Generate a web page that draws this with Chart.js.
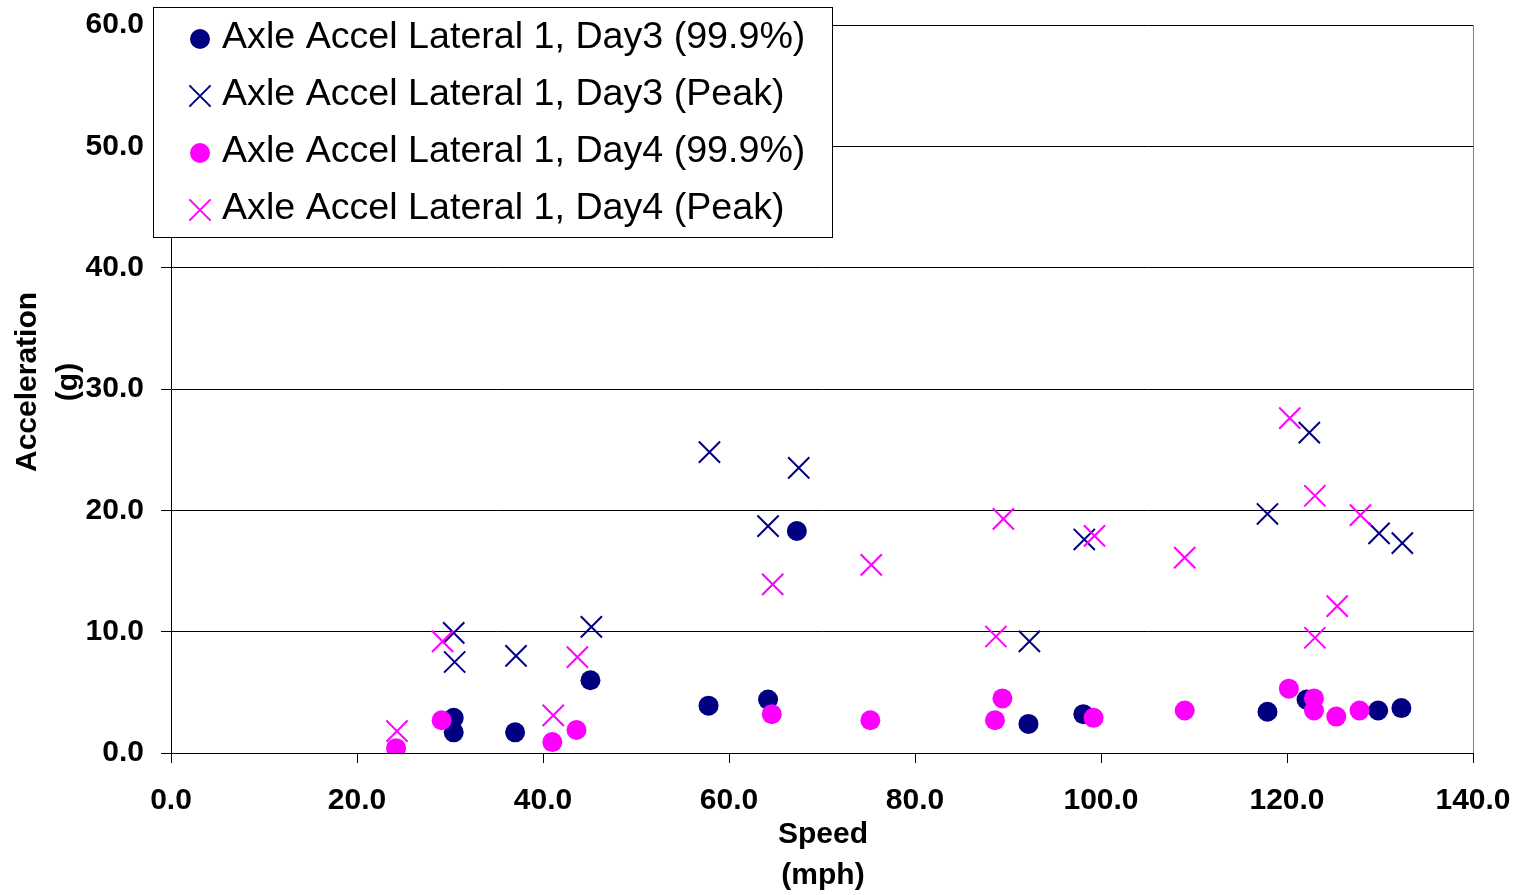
<!DOCTYPE html>
<html>
<head>
<meta charset="utf-8">
<style>
  html, body { margin: 0; padding: 0; background: #ffffff; }
  #wrap { width: 1522px; height: 895px; position: relative; }
  canvas { display: block; }
</style>
<script src="https://cdn.jsdelivr.net/npm/chart.js@4/dist/chart.umd.min.js"></script>
</head>
<body>
<div id="wrap"><canvas id="c" width="1522" height="895"></canvas></div>
<script>
// ---- data ----
const seriesLabels = [
  'Axle Accel Lateral 1, Day3 (99.9%)',
  'Axle Accel Lateral 1, Day3 (Peak)',
  'Axle Accel Lateral 1, Day4 (99.9%)',
  'Axle Accel Lateral 1, Day4 (Peak)'
];
const day3PctSpeed = [30.4, 30.4, 37.0, 45.1, 57.8, 64.2, 67.3, 92.2, 98.1, 117.9, 122.1, 129.8, 132.3];
const day3PctAccel = [2.9, 1.7, 1.7, 6.0, 3.9, 4.4, 18.3, 2.4, 3.2, 3.4, 4.4, 3.5, 3.7];
const day3PeakSpeed = [30.4, 30.5, 37.1, 45.2, 57.9, 64.2, 67.5, 92.3, 98.2, 117.9, 122.4, 129.9, 132.4];
const day3PeakAccel = [9.9, 7.5, 8.0, 10.4, 24.8, 18.7, 23.5, 9.2, 17.6, 19.7, 26.4, 18.1, 17.3];
const day4PctSpeed = [24.2, 29.1, 41.0, 43.6, 64.6, 75.2, 88.6, 89.4, 99.2, 109.0, 120.2, 122.9, 122.9, 125.3, 127.8];
const day4PctAccel = [0.4, 2.7, 0.9, 1.9, 3.2, 2.7, 2.7, 4.5, 2.9, 3.5, 5.3, 4.5, 3.5, 3.0, 3.5];
const day4PeakSpeed = [24.3, 29.2, 41.1, 43.7, 64.7, 75.3, 88.7, 89.5, 99.3, 109.0, 120.3, 123.0, 123.0, 125.4, 127.9];
const day4PeakAccel = [1.8, 9.2, 3.1, 7.9, 13.9, 15.5, 9.6, 19.3, 17.9, 16.1, 27.6, 21.2, 9.5, 12.1, 19.6];
const xTitleLines = ['Speed', '(mph)'];
const yTitleLines = ['Acceleration', '(g)'];
const xMin = 0, xMax = 140, xStep = 20;
const yMin = 0, yMax = 60, yStep = 10;

const NAVY = '#000080';
const MAGENTA = '#FF00FF';
const FONT = '"Liberation Sans", Arial, Helvetica, sans-serif';

function pts(xs, ys) { return xs.map((x, i) => ({ x: x, y: ys[i] })); }

const styles = [
  { color: NAVY, pointStyle: 'circle', radius: 10, bw: 0, order: 4 },
  { color: NAVY, pointStyle: 'crossRot', radius: 15, bw: 2, order: 3 },
  { color: MAGENTA, pointStyle: 'circle', radius: 10, bw: 0, order: 2 },
  { color: MAGENTA, pointStyle: 'crossRot', radius: 15, bw: 2, order: 1 }
];
const dataSets = [
  pts(day3PctSpeed, day3PctAccel),
  pts(day3PeakSpeed, day3PeakAccel),
  pts(day4PctSpeed, day4PctAccel),
  pts(day4PeakSpeed, day4PeakAccel)
];

const datasets = dataSets.map((d, i) => ({
  label: seriesLabels[i],
  data: d,
  showLine: false,
  order: styles[i].order,
  pointStyle: styles[i].pointStyle,
  pointRadius: styles[i].radius,
  pointHoverRadius: styles[i].radius,
  pointBackgroundColor: styles[i].color,
  pointBorderColor: styles[i].color,
  pointBorderWidth: styles[i].bw,
  backgroundColor: styles[i].color,
  borderColor: styles[i].color
}));

function drawMarker(ctx, st, x, y) {
  ctx.save();
  ctx.fillStyle = st.color;
  ctx.strokeStyle = st.color;
  ctx.lineWidth = st.bw || 2;
  if (st.pointStyle === 'circle') {
    ctx.beginPath();
    ctx.arc(x, y, st.radius, 0, Math.PI * 2);
    ctx.fill();
  } else {
    const o = Math.cos(Math.PI / 4) * st.radius;
    ctx.beginPath();
    ctx.moveTo(x - o, y - o); ctx.lineTo(x + o, y + o);
    ctx.moveTo(x + o, y - o); ctx.lineTo(x - o, y + o);
    ctx.stroke();
  }
  ctx.restore();
}

const decorPlugin = {
  id: 'decor',
  beforeDatasetsDraw(chart) {
    const { ctx, chartArea } = chart;
    ctx.save();
    ctx.strokeStyle = '#808080';
    ctx.lineWidth = 1;
    ctx.beginPath();
    ctx.moveTo(Math.round(chartArea.right) + 0.5, chartArea.top);
    ctx.lineTo(Math.round(chartArea.right) + 0.5, chartArea.bottom);
    ctx.stroke();
    ctx.restore();
  },
  afterDraw(chart) {
    const { ctx, chartArea } = chart;
    ctx.save();
    // axis titles
    ctx.fillStyle = '#000';
    ctx.font = 'bold 30px ' + FONT;
    ctx.textAlign = 'center';
    ctx.textBaseline = 'alphabetic';
    const cx = (chartArea.left + chartArea.right) / 2 + 1;
    ctx.fillText(xTitleLines[0], cx, 843);
    ctx.fillText(xTitleLines[1], cx, 884);
    const cy = 382;
    [36, 77].forEach((bx, i) => {
      ctx.save();
      ctx.translate(bx, cy);
      ctx.rotate(-Math.PI / 2);
      ctx.fillText(yTitleLines[i], 0, 0);
      ctx.restore();
    });
    // legend box
    const lx = 153.5, ly = 7.5, lw = 679, lh = 230;
    ctx.fillStyle = '#ffffff';
    ctx.fillRect(lx, ly, lw, lh);
    ctx.strokeStyle = '#000';
    ctx.lineWidth = 1;
    ctx.strokeRect(lx, ly, lw, lh);
    ctx.font = '36px ' + FONT;
    ctx.textAlign = 'left';
    const baselines = [48, 105, 162, 219];
    chart.data.datasets.forEach((ds, i) => {
      drawMarker(ctx, styles[i], 200, baselines[i] - 9);
      ctx.save();
      ctx.fillStyle = '#000';
      ctx.translate(222, baselines[i]);
      ctx.scale(1.045, 1);
      ctx.fillText(ds.label, 0, 0);
      ctx.restore();
    });
    ctx.restore();
  }
};

const tickFont = { family: FONT, size: 30, weight: 'bold' };

new Chart(document.getElementById('c'), {
  type: 'scatter',
  data: { datasets: datasets },
  plugins: [decorPlugin],
  options: {
    responsive: false,
    devicePixelRatio: 1,
    animation: false,
    events: [],
    layout: { padding: { left: 0, top: 25, right: 49, bottom: 0 } },
    plugins: {
      legend: { display: false },
      tooltip: { enabled: false },
      title: { display: false }
    },
    scales: {
      x: {
        type: 'linear',
        position: 'bottom',
        min: xMin, max: xMax,
        afterFit(scale) {
          scale.height = 142;
          scale.paddingLeft = 0; scale.paddingRight = 0;
          scale.paddingTop = 0; scale.paddingBottom = 0;
        },
        ticks: {
          stepSize: xStep,
          color: '#000',
          font: tickFont,
          padding: 20,
          maxRotation: 0,
          autoSkip: false,
          callback: v => Number(v).toFixed(1)
        },
        grid: { display: true, drawOnChartArea: false, drawTicks: true, tickLength: 10, color: '#000', lineWidth: 1 },
        border: { display: true, color: '#000', width: 1 }
      },
      y: {
        type: 'linear',
        position: 'left',
        min: yMin, max: yMax,
        afterFit(scale) {
          scale.width = 171;
          scale.paddingLeft = 0; scale.paddingRight = 0;
          scale.paddingTop = 0; scale.paddingBottom = 0;
        },
        ticks: {
          stepSize: yStep,
          color: '#000',
          font: tickFont,
          padding: 17,
          autoSkip: false,
          callback: v => Number(v).toFixed(1)
        },
        grid: { display: true, drawOnChartArea: true, drawTicks: true, tickLength: 10, color: '#000', lineWidth: 1 },
        border: { display: true, color: '#000', width: 1 }
      }
    }
  }
});
</script>
</body>
</html>
